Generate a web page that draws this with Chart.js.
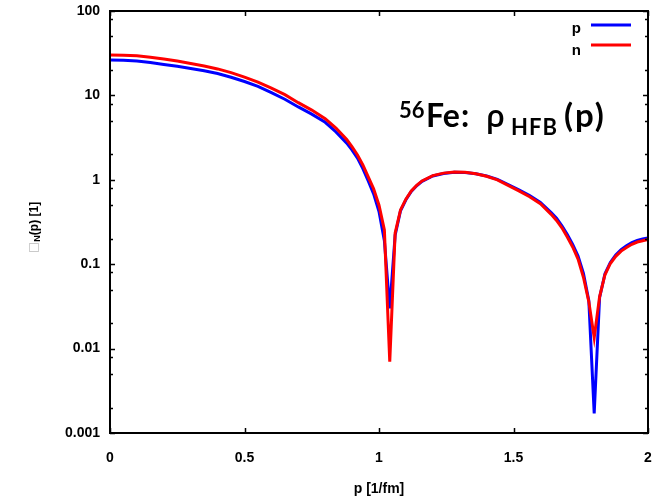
<!DOCTYPE html>
<html>
<head>
<meta charset="utf-8">
<script src="https://cdn.jsdelivr.net/npm/chart.js@4.4.0/dist/chart.umd.min.js"></script>
<style>
  body { margin: 0; background: #fff; }
</style>
</head>
<body>
<canvas id="myChart" width="654" height="500"></canvas>
<script>
// Setup values
var momenta = [0, 0.05, 0.1, 0.15, 0.2, 0.25, 0.3, 0.35, 0.4, 0.45, 0.5, 0.55, 0.6, 0.65, 0.7, 0.75, 0.8, 0.84, 0.88, 0.9,
  0.92, 0.94, 0.96, 0.98, 1.0, 1.02, 1.04, 1.06, 1.08, 1.1, 1.12, 1.14, 1.16, 1.2, 1.24, 1.28, 1.32, 1.36, 1.4, 1.44,
  1.48, 1.52, 1.56, 1.6, 1.64, 1.66, 1.68, 1.7, 1.72, 1.74, 1.76, 1.78, 1.8, 1.82, 1.84, 1.86, 1.88, 1.9, 1.92, 1.94,
  1.96, 1.98, 2.0];
var protonDensity = [26.2, 26.1, 25.6, 24.6, 23.3, 22.1, 20.8, 19.6, 18.2, 16.4, 14.6, 12.8, 10.8, 9.0, 7.3, 6.0, 4.8, 3.7, 2.72, 2.25,
  1.81, 1.36, 0.97, 0.68, 0.42, 0.19, 0.030, 0.22, 0.43, 0.58, 0.73, 0.85, 0.96, 1.11, 1.19, 1.23, 1.22, 1.18, 1.11, 1.01,
  0.88, 0.76, 0.65, 0.54, 0.41, 0.35, 0.285, 0.225, 0.172, 0.125, 0.078, 0.037, 0.0017, 0.040, 0.077, 0.105, 0.129, 0.149, 0.165, 0.180,
  0.191, 0.199, 0.205];
var neutronDensity = [30.1, 30.0, 29.5, 28.4, 27.0, 25.5, 23.9, 22.3, 20.6, 18.6, 16.5, 14.4, 12.2, 10.2, 8.2, 6.7, 5.3, 4.1, 3.0, 2.45,
  1.97, 1.50, 1.08, 0.78, 0.50, 0.254, 0.0070, 0.234, 0.44, 0.59, 0.74, 0.86, 0.97, 1.12, 1.20, 1.24, 1.23, 1.18, 1.10, 1.00,
  0.86, 0.74, 0.63, 0.52, 0.39, 0.33, 0.27, 0.21, 0.16, 0.115, 0.070, 0.036, 0.0135, 0.041, 0.075, 0.102, 0.124, 0.143, 0.158, 0.172,
  0.183, 0.190, 0.196];
var xTickLabels = ["0", "0.5", "1", "1.5", "2"];
var yTickLabels = ["0.001", "0.01", "0.1", "1", "10", "100"];

var tickFont = { family: "'Liberation Sans', Arial, sans-serif", size: 14, weight: "bold" };

function toPoints(values) {
  return momenta.map(function (p, i) { return { x: p, y: values[i] }; });
}

// keep the plot box where we put it
function noLabelPadding(scale) {
  scale.paddingTop = 0;
  scale.paddingBottom = 0;
  scale.paddingLeft = 0;
  scale.paddingRight = 0;
}

// Frame, ticks, labels and title drawn on top
var framePlugin = {
  id: "frame",
  afterDraw: function (chart) {
    var ctx = chart.ctx;
    var a = chart.chartArea;
    var xs = chart.scales.x;
    var ys = chart.scales.y;
    ctx.save();
    ctx.strokeStyle = "#000";
    ctx.lineWidth = 1.5;
    // x ticks (bottom + top)
    xTickLabels.forEach(function (t) {
      var px = Math.round(xs.getPixelForValue(parseFloat(t))) + 0.5;
      ctx.beginPath();
      ctx.moveTo(px, a.bottom); ctx.lineTo(px, a.bottom - 5);
      ctx.moveTo(px, a.top); ctx.lineTo(px, a.top + 5);
      ctx.stroke();
    });
    // y ticks, major and minor (2, 5, 8)
    yTickLabels.forEach(function (t) {
      var v = parseFloat(t);
      var py = Math.round(ys.getPixelForValue(v)) + 0.5;
      ctx.beginPath();
      ctx.moveTo(a.left, py); ctx.lineTo(a.left + 5, py);
      ctx.moveTo(a.right, py); ctx.lineTo(a.right - 5, py);
      ctx.stroke();
      if (v < 100) {
        [2, 5, 8].forEach(function (m) {
          var my = Math.round(ys.getPixelForValue(v * m)) + 0.5;
          ctx.beginPath();
          ctx.moveTo(a.left, my); ctx.lineTo(a.left + 3, my);
          ctx.moveTo(a.right, my); ctx.lineTo(a.right - 3, my);
          ctx.stroke();
        });
      }
    });
    ctx.lineWidth = 2;
    ctx.strokeRect(a.left, a.top, a.right - a.left, a.bottom - a.top);

    // x axis title
    ctx.fillStyle = "#000";
    ctx.font = "bold 14px 'Liberation Sans', Arial, sans-serif";
    ctx.textAlign = "center";
    ctx.textBaseline = "alphabetic";
    ctx.fillText("p [1/fm]", (a.left + a.right) / 2, 493);

    // y axis title (rotated)
    ctx.save();
    ctx.translate(38, 253);
    ctx.rotate(-Math.PI / 2);
    ctx.textAlign = "left";
    ctx.fillStyle = "#bbb";
    ctx.font = "12px 'DejaVu Sans', sans-serif";
    ctx.fillText("\u25A1", 0, -1);
    var w = ctx.measureText("\u25A1").width;
    ctx.fillStyle = "#000";
    ctx.font = "bold 9px 'Liberation Sans', Arial, sans-serif";
    ctx.fillText("N", w, 2);
    w += ctx.measureText("N").width;
    ctx.font = "bold 12px 'Liberation Sans', Arial, sans-serif";
    ctx.fillText("(p) [1]", w, 0);
    ctx.restore();

    // legend
    ctx.textAlign = "right";
    ctx.font = "bold 15px 'Liberation Sans', Arial, sans-serif";
    ctx.fillText("p", 581, 33);
    ctx.fillText("n", 581, 55);
    ctx.lineWidth = 3;
    ctx.strokeStyle = "#0000ff";
    ctx.beginPath(); ctx.moveTo(591, 25); ctx.lineTo(631, 25); ctx.stroke();
    ctx.strokeStyle = "#ff0000";
    ctx.beginPath(); ctx.moveTo(591, 45); ctx.lineTo(631, 45); ctx.stroke();

    // big label
    ctx.textAlign = "left";
    ctx.fillStyle = "#000";
    ctx.font = "bold 22px Lato, 'Open Sans', sans-serif";
    ctx.fillText("56", 399, 118);
    ctx.font = "bold 32px Lato, 'Open Sans', sans-serif";
    ctx.fillText("Fe", 426, 127);
    ctx.fillText(":", 461, 127);
    ctx.font = "600 31px 'Open Sans', sans-serif";
    ctx.fillText("\u03C1", 486, 127);
    ctx.font = "bold 22px Lato, 'Open Sans', sans-serif";
    ctx.letterSpacing = "1px";
    ctx.fillText("HFB", 511, 135);
    ctx.font = "bold 33px Lato, 'Open Sans', sans-serif";
    ctx.letterSpacing = "2px";
    ctx.fillText("(p)", 564, 127);
    ctx.letterSpacing = "0px";
    ctx.restore();
  }
};

var ctxChart = document.getElementById("myChart").getContext("2d");
var myChart = new Chart(ctxChart, {
  type: "line",
  data: {
    datasets: [{
      label: "p",
      data: toPoints(protonDensity),
      borderColor: "#0000ff",
      borderWidth: 3,
      pointRadius: 0,
      tension: 0,
      fill: false,
      order: 2
    }, {
      label: "n",
      data: toPoints(neutronDensity),
      borderColor: "#ff0000",
      borderWidth: 3,
      pointRadius: 0,
      tension: 0,
      fill: false,
      order: 1
    }]
  },
  options: {
    responsive: false,
    devicePixelRatio: 1,
    animation: false,
    layout: { padding: { top: 11, right: 6, left: 0, bottom: 0 } },
    plugins: { legend: { display: false }, tooltip: { enabled: false } },
    scales: {
      x: {
        type: "linear",
        min: 0,
        max: 2,
        grid: { display: false, drawTicks: false },
        border: { display: false },
        afterBuildTicks: function (scale) {
          scale.ticks = xTickLabels.map(function (t) { return { value: parseFloat(t) }; });
        },
        afterFit: function (scale) { scale.height = 67; noLabelPadding(scale); },
        ticks: {
          color: "#000",
          font: tickFont,
          padding: 17,
          maxRotation: 0,
          callback: function (value) {
            return xTickLabels.find(function (t) { return parseFloat(t) === value; });
          }
        }
      },
      y: {
        type: "logarithmic",
        min: 0.001,
        max: 100,
        grid: { display: false, drawTicks: false },
        border: { display: false },
        afterBuildTicks: function (scale) {
          scale.ticks = yTickLabels.map(function (t) { return { value: parseFloat(t) }; });
        },
        afterFit: function (scale) { scale.width = 110; noLabelPadding(scale); },
        ticks: {
          color: "#000",
          font: tickFont,
          padding: 10,
          callback: function (value) {
            return yTickLabels.find(function (t) { return parseFloat(t) === value; });
          }
        }
      }
    }
  },
  plugins: [framePlugin]
});
</script>
</body>
</html>
